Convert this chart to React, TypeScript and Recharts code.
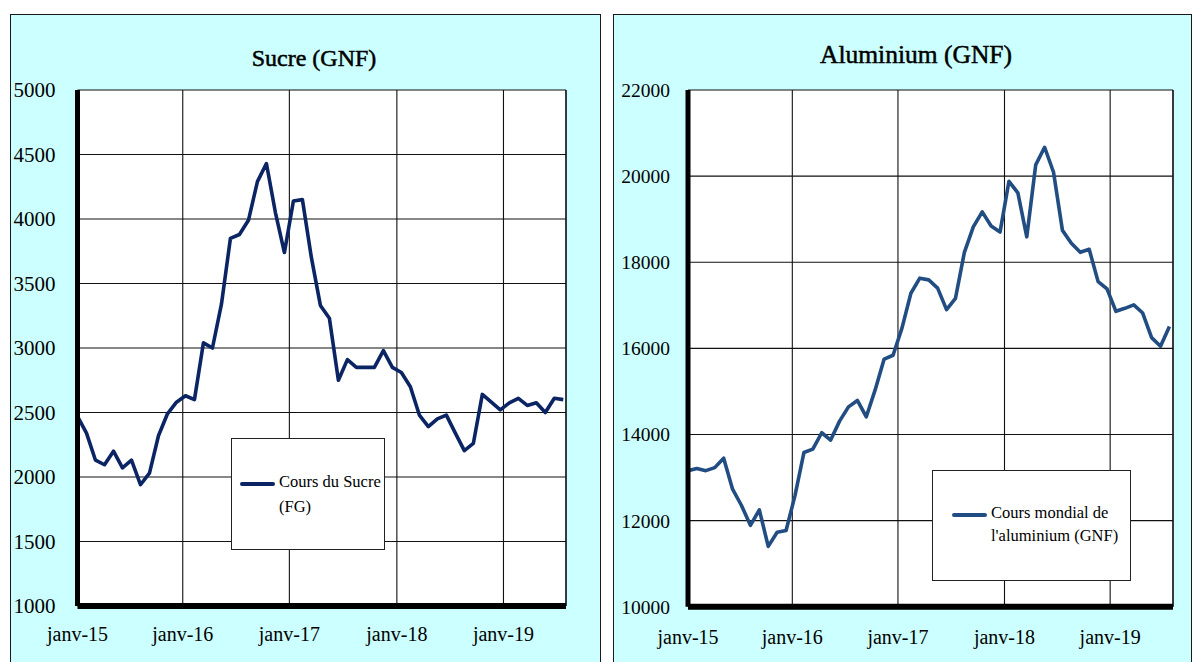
import { LineChart, Line, XAxis, YAxis, CartesianGrid, Legend, ReferenceLine } from "recharts";

// monthly prices, janv-15 .. juil-19
const sucre = [
  2470, 2340, 2130, 2095, 2200, 2070, 2130, 1940, 2030, 2320,
  2490, 2580, 2630, 2600, 3040, 3000, 3340, 3850, 3880, 3990,
  4290, 4430, 4050, 3740, 4140, 4150, 3700, 3330, 3230, 2750,
  2910, 2850, 2850, 2850, 2980, 2850, 2810, 2700, 2480, 2390,
  2450, 2480, 2340, 2205, 2260, 2640, 2580, 2520, 2575, 2610,
  2555, 2575, 2500, 2610, 2600,
];

const aluminium = [
  13160, 13210, 13160, 13230, 13450, 12730, 12350, 11890, 12250, 11400,
  11730, 11770, 12580, 13580, 13660, 14040, 13870, 14310, 14640, 14790,
  14410, 15040, 15750, 15840, 16470, 17280, 17630, 17590, 17400, 16900,
  17160, 18230, 18820, 19170, 18840, 18700, 19880, 19610, 18590, 20260,
  20670, 20090, 18740, 18440, 18230, 18300, 17550, 17380, 16860, 16930,
  17010, 16820, 16250, 16050, 16510,
];

// the year gridlines in the source sit a little before each 12th point
const yearLabels = ["janv-15", "janv-16", "janv-17", "janv-18", "janv-19"];
const yearTicks = [0, 11.7, 23.55, 35.5, 47.35];
const sucreTicks = [1000, 1500, 2000, 2500, 3000, 3500, 4000, 4500, 5000];
const aluTicks = [10000, 12000, 14000, 16000, 18000, 20000, 22000];

const FONT = '"Liberation Serif", "Times New Roman", serif';
const CYAN = "#ccffff";

const sucreData = sucre.map((v, i) => ({ m: i, v }));
const aluData = aluminium.map((v, i) => ({ m: i, v }));

const fmtYear = (m: number) => yearLabels[yearTicks.indexOf(m)] ?? "";

// ─── legend box ───────────────────────────────────────────────────────────────

interface BoxProps {
  lines: string[];
  color: string;
  lineLeft: number;
  lineTop: number;
  lineGap: number;
  fontSize: number;
}

function LegendBox({ lines, color, lineLeft, lineTop, lineGap, fontSize }: BoxProps) {
  return (
    <div
      style={{
        position: "relative",
        width: "100%",
        height: "100%",
        boxSizing: "border-box",
        border: "1.5px solid #222",
        background: "#fff",
        fontFamily: FONT,
        fontSize,
        color: "#000",
      }}
    >
      <div
        style={{
          position: "absolute",
          left: lineLeft,
          top: lineTop - 2,
          width: 35,
          height: 4,
          background: color,
          borderRadius: 2,
        }}
      />
      {lines.map((t, i) => (
        <div
          key={t}
          style={{
            position: "absolute",
            left: lineLeft + 39,
            top: lineTop - fontSize * 0.6 + i * lineGap,
            whiteSpace: "nowrap",
            lineHeight: 1,
          }}
        >
          {t}
        </div>
      ))}
    </div>
  );
}

// ─── panel ────────────────────────────────────────────────────────────────────

function Panel({ left, width }: { left: number; width: number }) {
  return (
    <div
      style={{
        position: "absolute",
        left,
        top: 14,
        width,
        height: 700,
        boxSizing: "border-box",
        border: "1.5px solid #1a1a1a",
        background: CYAN,
      }}
    />
  );
}

function Title({ text, center, y, size }: { text: string; center: number; y: number; size: number }) {
  return (
    <div
      style={{
        position: "absolute",
        left: center - 150,
        width: 300,
        top: y - 13,
        height: 26,
        lineHeight: "26px",
        textAlign: "center",
        fontFamily: FONT,
        fontSize: size,
        color: "#000",
        WebkitTextStroke: "0.5px #000",
      }}
    >
      {text}
    </div>
  );
}

export default function App() {
  const tickStyle = { fill: "#000", fontFamily: FONT };
  return (
    <div
      style={{
        position: "absolute",
        left: 0,
        top: 0,
        width: 1195,
        height: 662,
        background: "#fff",
        overflow: "hidden",
      }}
    >
      <Panel left={10} width={591} />
      <Panel left={613} width={579} />
      <Title text="Sucre (GNF)" center={314} y={58} size={24} />
      <Title text="Aluminium (GNF)" center={916} y={55} size={25.5} />

      {/* Sucre */}
      <div style={{ position: "absolute", left: 10, top: 0 }}>
        <LineChart width={591} height={662} data={sucreData} margin={{ top: 90, right: 35, bottom: 0, left: 0 }}>
          <CartesianGrid fill="#fff" stroke="#111" strokeWidth={1.1} strokeOpacity={1} />
          <XAxis
            dataKey="m"
            type="number"
            domain={[0, 54.3]}
            ticks={yearTicks}
            tickFormatter={fmtYear}
            height={56}
            tickSize={0}
            tickMargin={21}
            axisLine={{ stroke: "#000", strokeWidth: 6 }}
            tick={{ ...tickStyle, fontSize: 20 }}
            interval={0}
            allowDataOverflow
          />
          <YAxis
            type="number"
            domain={[1000, 5000]}
            ticks={sucreTicks}
            width={67.5}
            tickSize={0}
            tickMargin={22}
            axisLine={{ stroke: "#000", strokeWidth: 5 }}
            tick={{ ...tickStyle, fontSize: 21 }}
            interval={0}
          />
          <ReferenceLine x={54.3} stroke="#111" strokeWidth={1.2} />
          <Legend
            layout="horizontal"
            verticalAlign="middle"
            align="center"
            width={154}
            height={112}
            wrapperStyle={{ left: 221, top: 438, width: 154, height: 112 }}
            content={() => (
              <LegendBox
                lines={["Cours du Sucre", "(FG)"]}
                color="#0b2463"
                lineLeft={8}
                lineTop={45}
                lineGap={25}
                fontSize={16.5}
              />
            )}
          />
          <Line
            dataKey="v"
            type="linear"
            stroke="#0b2463"
            strokeWidth={3.6}
            strokeLinejoin="round"
            dot={false}
            isAnimationActive={false}
          />
        </LineChart>
      </div>

      {/* Aluminium */}
      <div style={{ position: "absolute", left: 613, top: 0 }}>
        <LineChart width={578} height={662} data={aluData} margin={{ top: 90, right: 18, bottom: 0, left: 0 }}>
          <CartesianGrid fill="#fff" stroke="#111" strokeWidth={1.1} strokeOpacity={1} />
          <XAxis
            dataKey="m"
            type="number"
            domain={[0, 54.4]}
            ticks={yearTicks}
            tickFormatter={fmtYear}
            height={55.3}
            tickSize={0}
            tickMargin={23}
            axisLine={{ stroke: "#000", strokeWidth: 6 }}
            tick={{ ...tickStyle, fontSize: 20 }}
            interval={0}
            allowDataOverflow
          />
          <YAxis
            type="number"
            domain={[10000, 22000]}
            ticks={aluTicks}
            width={75}
            tickSize={0}
            tickMargin={18}
            axisLine={{ stroke: "#000", strokeWidth: 5 }}
            tick={{ ...tickStyle, fontSize: 19.5 }}
            interval={0}
          />
          <ReferenceLine x={54.4} stroke="#111" strokeWidth={1.2} />
          <Legend
            layout="horizontal"
            verticalAlign="middle"
            align="center"
            width={199}
            height={111}
            wrapperStyle={{ left: 319, top: 470, width: 199, height: 111 }}
            content={() => (
              <LegendBox
                lines={["Cours mondial de", "l'aluminium (GNF)"]}
                color="#214d82"
                lineLeft={19}
                lineTop={44}
                lineGap={23}
                fontSize={16.5}
              />
            )}
          />
          <Line
            dataKey="v"
            type="linear"
            stroke="#214d82"
            strokeWidth={3.6}
            strokeLinejoin="round"
            dot={false}
            isAnimationActive={false}
          />
        </LineChart>
      </div>
    </div>
  );
}
